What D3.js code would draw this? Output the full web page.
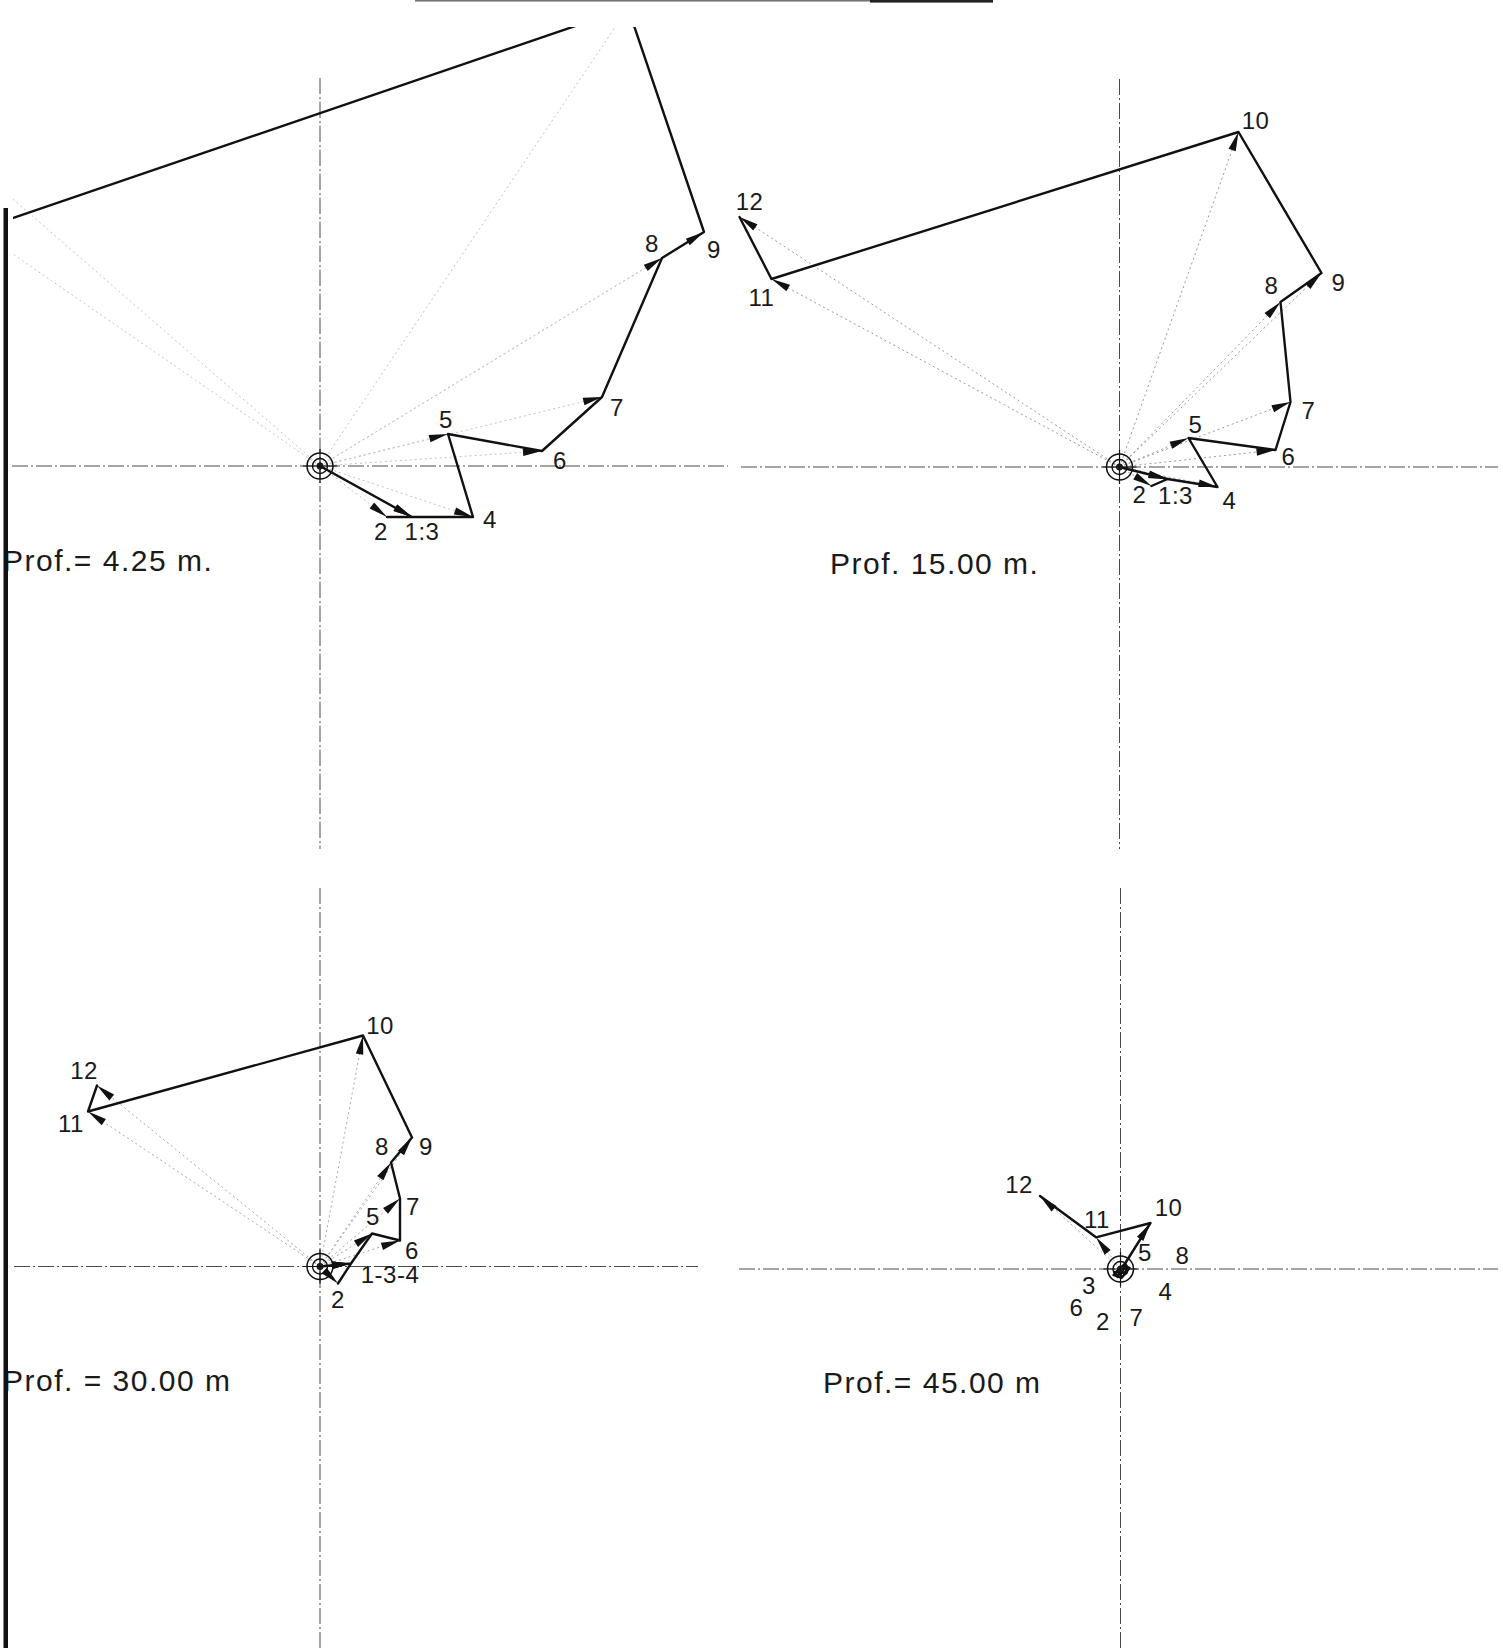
<!DOCTYPE html>
<html>
<head>
<meta charset="utf-8">
<script src="https://cdn.jsdelivr.net/npm/d3@7"></script>
<style>
  html, body { margin: 0; padding: 0; background: #fff; }
  svg { display: block; }
</style>
</head>
<body>
<svg id="chart" width="1503" height="1648"></svg>
<script>
// Reading numbers, shared by every depth
const readings = [1, 2, 3, 4, 5, 6, 7, 8, 9, 10, 11, 12];

// Cumulative horizontal displacement of each reading (mm): east (+x) and north (+y)
const east425   = [9.2, 6.7, 9.2, 15.3, 12.8, 22.2, 28.2, 34.2, 38.4, 30.8, -34.2, -40.5];
const north425  = [-5.1, -5.1, -5.1, -5.1, 3.2, 1.5, 6.9, 20.8, 23.4, 45.8, 23.6, 35.2];

const east1500  = [4.8, 3.2, 4.8, 9.8, 6.9, 15.6, 17.1, 16.1, 20.2, 11.9, -34.8, -38.0];
const north1500 = [-1.2, -1.9, -1.2, -2.0, 2.9, 1.7, 6.5, 16.5, 19.4, 33.5, 18.8, 25.0];

const east3000  = [3.1, 1.8, 3.1, 3.1, 5.2, 8.0, 8.0, 7.1, 9.2, 4.3, -23.2, -22.3];
const north3000 = [0.3, -1.7, 0.3, 0.3, 3.3, 2.6, 6.8, 10.4, 12.9, 23.1, 15.5, 18.1];

const east4500  = [0.1, -0.3, -0.6, 0.6, 0.4, -0.7, 0.1, 0.9, 0.3, 3.0, -2.45, -8.05];
const north4500 = [0.0, -0.8, -0.3, -0.4, 0.5, -0.6, -0.9, 0.1, 0.3, 4.6, 3.17, 7.3];

// Depth captions
const depthTitles = ["Prof.= 4.25 m.", "Prof. 15.00 m.", "Prof. = 30.00 m", "Prof.= 45.00 m"];

// Point labels (readings that coincide share one label; readings beyond the frame are not labelled)
const labels425  = ["1:3", "2", null, "4", "5", "6", "7", "8", "9", null, null, null];
const labels1500 = ["1:3", "2", null, "4", "5", "6", "7", "8", "9", "10", "11", "12"];
const labels3000 = ["1-3-4", "2", null, null, "5", "6", "7", "8", "9", "10", "11", "12"];
const labels4500 = [null, "2", "3", "4", "5", "6", "7", "8", null, "10", "11", "12"];

// ---- layout -------------------------------------------------------------
const PX_PER_MM = 10;

const panels = [
  { east: east425, north: north425, labels: labels425, title: depthTitles[0],
    ox: 320, oy: 466, clip: [13, 27, 733, 850], radial: "#c4c4c4",
    hAxis: [12, 728], vAxis: [78, 849], titlePos: [3, 571],
    labelOff: [[10,14],[-6,14],null,[17,2],[-2,-15],[18,9],[15,10],[-10,-15],[10,17],null,null,null] },
  { east: east1500, north: north1500, labels: labels1500, title: depthTitles[1],
    ox: 1119.5, oy: 467, clip: [737, 0, 1503, 850], radial: "#9a9a9a",
    hAxis: [741, 1498], vAxis: [79, 849], titlePos: [830, 574],
    labelOff: [[8,16],[-12,8],null,[12,13],[7,-14],[13,6],[18,8],[-9,-17],[17,9],[17,-12],[-10,18],[10,-16]] },
  { east: east3000, north: north3000, labels: labels3000, title: depthTitles[2],
    ox: 320, oy: 1266.5, clip: [13, 850, 733, 1648], radial: "#a8a8a8",
    hAxis: [14, 698], vAxis: [888, 1648], titlePos: [3, 1391],
    labelOff: [[39,11],[0,16],null,null,[1,-17],[12,10],[13,8],[-9,-16],[14,9],[17,-10],[-17,12],[-13,-15]] },
  { east: east4500, north: north4500, labels: labels4500, title: depthTitles[3],
    ox: 1120.5, oy: 1269, clip: [737, 850, 1503, 1648], radial: "#a8a8a8",
    hAxis: [739, 1498], vAxis: [888, 1648], titlePos: [823, 1393],
    labelOff: [null,[-14.5,44],[-25.5,13],[39,18],[20.5,-12],[-37,32.5],[15,39],[53,-13],null,[18,-16],[1,-18],[-21,-12]] }
];

const svg = d3.select("#chart");
svg.append("rect").attr("width", 1503).attr("height", 1648).attr("fill", "#fff");

const defs = svg.append("defs");
const FONT = "'Liberation Sans', Arial, sans-serif";

panels.forEach((p, k) => {
  const [cx0, cy0, cx1, cy1] = p.clip;
  defs.append("clipPath").attr("id", "clip" + k)
    .append("rect").attr("x", cx0).attr("y", cy0)
    .attr("width", cx1 - cx0).attr("height", cy1 - cy0);

  // displacement scales centred on the casing axis
  const x = d3.scaleLinear().domain([-1, 1]).range([p.ox - PX_PER_MM, p.ox + PX_PER_MM]);
  const y = d3.scaleLinear().domain([-1, 1]).range([p.oy + PX_PER_MM, p.oy - PX_PER_MM]);

  const pts = readings.map((r, i) => ({ r, e: p.east[i], n: p.north[i] }));

  // reference axes (dash-dot)
  const axes = svg.append("g").attr("stroke", "#4a4a4a").attr("stroke-width", 1)
    .attr("stroke-dasharray", "16,3,2,3").attr("fill", "none");
  axes.append("line").attr("x1", p.hAxis[0]).attr("x2", p.hAxis[1])
    .attr("y1", y(0)).attr("y2", y(0));
  axes.append("line").attr("x1", x(0)).attr("x2", x(0))
    .attr("y1", p.vAxis[0]).attr("y2", p.vAxis[1]);

  const g = svg.append("g").attr("clip-path", `url(#clip${k})`);

  // radial vectors from the origin to every reading
  g.append("g").selectAll("line").data(pts).join("line")
    .attr("x1", x(0)).attr("y1", y(0))
    .attr("x2", d => x(d.e)).attr("y2", d => y(d.n))
    .attr("stroke", p.radial).attr("stroke-width", 1)
    .attr("stroke-dasharray", "2,3");

  // displacement path through successive readings
  const line = d3.line().x(d => x(d.e)).y(d => y(d.n));
  g.append("path").datum([{ e: 0, n: 0 }, ...pts])
    .attr("d", line).attr("fill", "none")
    .attr("stroke", "#111").attr("stroke-width", 2.4)
    .attr("stroke-linejoin", "round").attr("stroke-linecap", "round");

  // arrowheads at the tip of each displacement vector
  g.append("g").selectAll("path").data(pts).join("path")
    .attr("d", d => {
      const tx = x(d.e), ty = y(d.n);
      const vx = tx - x(0), vy = ty - y(0);
      const L = Math.hypot(vx, vy);
      if (L < 0.5) return null;
      const ux = vx / L, uy = vy / L;
      const a = Math.min(19, 0.85 * L);
      const w = Math.min(3.8, a * 0.24);
      const bx = tx - ux * a, by = ty - uy * a;
      return `M${tx},${ty}L${bx - uy * w},${by + ux * w}L${bx + uy * w},${by - ux * w}Z`;
    })
    .attr("fill", "#111");

  // casing target symbol
  const t = svg.append("g").attr("transform", `translate(${x(0)},${y(0)})`)
    .attr("fill", "none").attr("stroke", "#111");
  t.append("circle").attr("r", 13).attr("stroke-width", 1.5);
  t.append("circle").attr("r", 7.5).attr("stroke-width", 1.4);
  t.append("circle").attr("r", 3.2).attr("fill", "#222").attr("stroke-width", 0.8);
  t.append("line").attr("x1", -17).attr("x2", 17).attr("stroke-width", 1.2);
  t.append("line").attr("y1", -17).attr("y2", 17).attr("stroke-width", 1.2);

  // reading labels
  g.append("g").selectAll("text")
    .data(pts.map((d, i) => ({ ...d, txt: p.labels[i], off: p.labelOff[i] }))
      .filter(d => d.txt && d.off))
    .join("text")
    .attr("x", d => x(d.e) + d.off[0])
    .attr("y", d => y(d.n) + d.off[1])
    .attr("text-anchor", "middle").attr("dominant-baseline", "central")
    .attr("font-family", FONT).attr("font-size", 24).attr("letter-spacing", 0.5)
    .attr("fill", "#1a1a1a")
    .text(d => d.txt);

  // depth caption
  svg.append("text")
    .attr("x", p.titlePos[0]).attr("y", p.titlePos[1])
    .attr("font-family", FONT).attr("font-size", 30).attr("letter-spacing", 1.5)
    .attr("fill", "#1a1a1a")
    .text(p.title);
});

// sheet frame: left margin rule and the top edge
svg.append("rect").attr("x", 3.5).attr("y", 208).attr("width", 4.5).attr("height", 1440).attr("fill", "#111");
svg.append("rect").attr("x", 415).attr("y", 0).attr("width", 455).attr("height", 1.6).attr("fill", "#777");
svg.append("rect").attr("x", 870).attr("y", 0).attr("width", 123).attr("height", 2.6).attr("fill", "#222");
</script>
</body>
</html>
